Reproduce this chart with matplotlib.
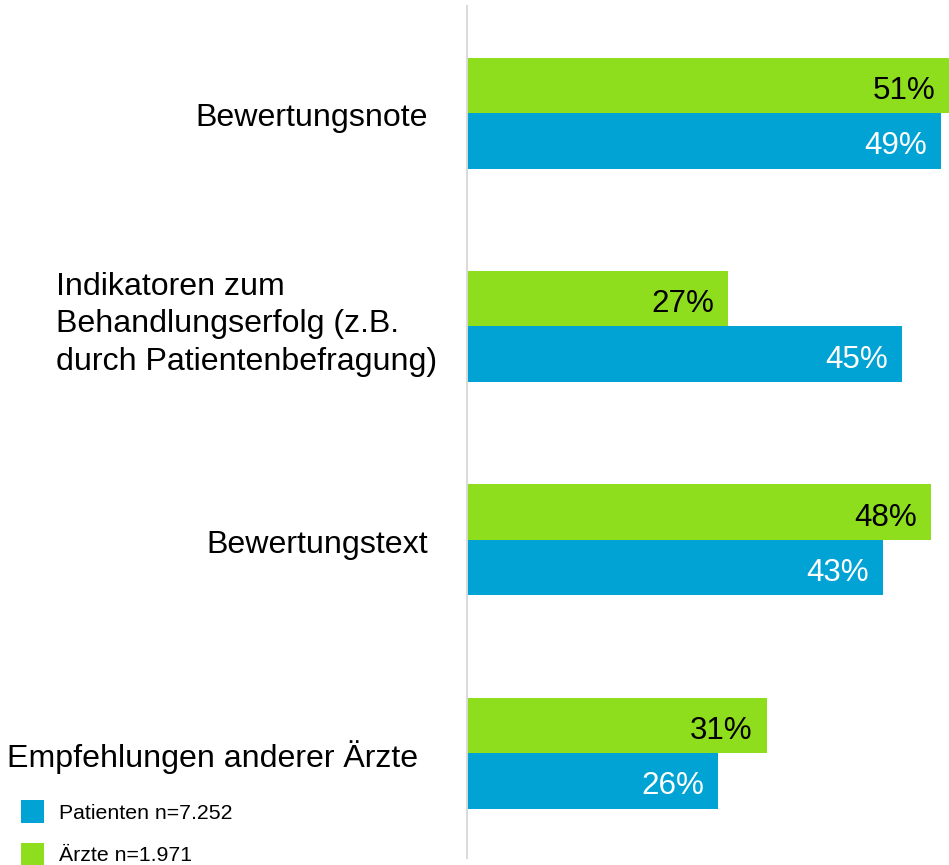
import matplotlib
matplotlib.use("Agg")
import matplotlib.pyplot as plt
from matplotlib.patches import Patch
from matplotlib.transforms import blended_transform_factory, offset_copy
import numpy as np

# ---- data ----
categories = [
    "Bewertungsnote",
    "Indikatoren zum\nBehandlungserfolg (z.B.\ndurch Patientenbefragung)",
    "Bewertungstext",
    "Empfehlungen anderer Ärzte",
]
aerzte = [51, 27, 48, 31]
patienten = [49, 45, 43, 26]
legend_labels = ["Patienten n=7.252", "Ärzte n=1.971"]

# ---- layout (pixel offsets of category labels from the axis line) ----
label_dx = [-39, -30, -39, -49]
label_dy = [-5, 2, -5, -4]

# ---- style ----
green = "#8FDE1E"
blue = "#00A3D4"
axis_gray = "#D9D9D9"
plt.rcParams['font.family'] = ['Liberation Sans', 'DejaVu Sans']

W, H = 949, 865
fig = plt.figure(figsize=(W / 100, H / 100), dpi=100)
ax = fig.add_axes([467 / W, (H - 858) / H, 1 - 467 / W, (858 - 6) / H])

y = np.arange(len(categories))
h = 0.26
ax.barh(y - h / 2, aerzte, height=h, color=green, edgecolor='none')
ax.barh(y + h / 2, patienten, height=h, color=blue, edgecolor='none')

xmax = 49.84
ax.set_xlim(0, xmax)
ax.set_ylim(3.492, -0.502)

for s in ['top', 'right', 'bottom']:
    ax.spines[s].set_visible(False)
ax.spines['left'].set_color(axis_gray)
ax.spines['left'].set_linewidth(1.4)
ax.set_xticks([])
ax.set_yticks([])

# category labels (left of the axis)
cat_fs = 23.1
blend = blended_transform_factory(ax.transAxes, ax.transData)
for i, lab in enumerate(categories):
    tr = offset_copy(blend, fig=fig, x=label_dx[i], y=label_dy[i], units='dots')
    ax.text(0, y[i], lab, transform=tr, ha='right', va='center',
            multialignment='left', linespacing=1.31, fontsize=cat_fs,
            color='black')

# value labels inside bar ends
fs = 22.6
for i in range(len(categories)):
    for vals, yc, col in ((aerzte, y[i] - h / 2, 'black'), (patienten, y[i] + h / 2, 'white')):
        v = vals[i]
        ax.annotate(f"{v}%", (min(v, xmax), yc), xytext=(-10, -4),
                    textcoords='offset points', ha='right', va='center',
                    fontsize=fs, color=col, annotation_clip=False)

handles = [Patch(facecolor=blue, edgecolor='none'), Patch(facecolor=green, edgecolor='none')]
fig.legend(handles, legend_labels, loc='upper left',
           bbox_to_anchor=(21 / W, 1 - 800 / H), frameon=False, fontsize=15.3,
           handlelength=1.08, handleheight=1.3, handletextpad=0.72,
           labelspacing=0.92, borderpad=0, borderaxespad=0)

fig.savefig("out.png", dpi=100)
